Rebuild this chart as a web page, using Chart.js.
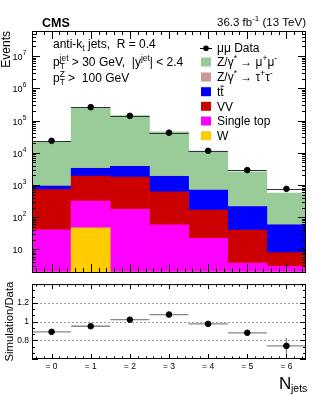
<!DOCTYPE html>
<html>
<head>
<meta charset="utf-8">
<script src="https://cdn.jsdelivr.net/npm/chart.js@4.4.1/dist/chart.umd.min.js"></script>
<style>
  body { margin: 0; background: #fff; }
  #wrap { position: relative; width: 316px; height: 395px; }
  #mainChart { position: absolute; left: 0; top: 0; }
  #ratioChart { position: absolute; left: 0; top: 276px; }
</style>
</head>
<body>
<div id="wrap">
  <canvas id="mainChart" width="316" height="277"></canvas>
  <canvas id="ratioChart" width="316" height="119"></canvas>
</div>
<script>
// DATA
const nJets = [0, 1, 2, 3, 4, 5, 6];
const dataEvents = [23500, 260000, 140000, 42000, 11500, 2900, 760];
const zmumu = [20000, 243500, 139000, 43100, 10600, 2330, 500];
const ztautau = [8, 60, 50, 20, 6, 2, 0.5];
const ttbar = [210, 1400, 2050, 1255, 524, 175, 50];
const vv = [679, 1580, 1575, 557, 144, 36, 5];
const singleTop = [41, 273, 175, 58, 22, 3.8, 3.0];
const wjets = [0, 47, 0, 0, 0, 0, 0];
const ratio = [0.89, 0.95, 1.02, 1.075, 0.975, 0.88, 0.74];
const ratioErr = [0.006, 0.003, 0.003, 0.006, 0.012, 0.025, 0.085];
const logTicks = [10, 100, 1000, 10000, 100000, 1000000, 10000000];
const ratioTicks = [0.8, 1, 1.2];

const FONT = "'Liberation Sans', Arial, Helvetica, sans-serif";

const xy = arr => nJets.map((n, i) => ({ x: n, y: arr[i] }));

// RICH TEXT (sub / sup)
function font(size, bold) {
    return (bold ? "bold " : "") + size + "px " + FONT;
}

function partWidth(ctx, p, size) {
    if (p.t !== undefined) {
        ctx.font = font(p.sup || p.sub ? size * 0.7 : size);
        return ctx.measureText(p.t).width;
    }
    ctx.font = font(size * 0.7);
    return Math.max(ctx.measureText(p.lo).width, ctx.measureText(p.hi).width);
}

function richText(ctx, x, y, parts, size, align) {
    let total = 0;
    parts.forEach(p => total += partWidth(ctx, p, size));
    let cx = align === "right" ? x - total : x;
    ctx.textAlign = "left";
    ctx.textBaseline = "alphabetic";
    parts.forEach(p => {
        const w = partWidth(ctx, p, size);
        if (p.t !== undefined) {
            let dy = 0;
            if (p.sup) dy = -size * 0.42;
            if (p.sub) dy = size * 0.25;
            ctx.font = font(p.sup || p.sub ? size * 0.7 : size);
            ctx.fillText(p.t, cx, y + dy);
            if (p.bar) {
                const bw = ctx.measureText(p.bar).width;
                ctx.fillRect(cx + w - bw, y - size * 0.86, bw, 1);
            }
        } else {
            ctx.font = font(size * 0.7);
            ctx.fillText(p.lo, cx, y + size * 0.28);
            ctx.fillText(p.hi, cx, y - size * 0.45);
        }
        cx += w;
    });
}

function rotText(ctx, text, x, y, size, align) {
    ctx.save();
    ctx.translate(x, y);
    ctx.rotate(-Math.PI / 2);
    ctx.font = font(size);
    ctx.textAlign = align;
    ctx.textBaseline = "alphabetic";
    ctx.fillText(text, 0, 0);
    ctx.restore();
}

function xTicks(ctx, xs, area, majorLen, minorLen, top, bottom) {
    ctx.beginPath();
    for (let k = -3; k <= 33; k++) {
        const v = k * 0.2;
        if (v < -0.5 || v > 6.5) continue;
        const major = k % 5 === 0;
        const len = major ? majorLen : minorLen;
        const px = Math.round(xs.getPixelForValue(v)) + 0.5;
        if (bottom) { ctx.moveTo(px, area.bottom); ctx.lineTo(px, area.bottom - len); }
        if (top) { ctx.moveTo(px, area.top); ctx.lineTo(px, area.top + len); }
    }
    ctx.stroke();
}

// MAIN PANEL DECORATION
const mainDeco = {
    id: "mainDeco",
    beforeDatasetDraw(chart, args) {
        if (args.meta.type !== "scatter") return;
        const ctx = chart.ctx;
        const xs = chart.scales.x, ys = chart.scales.y;
        ctx.save();
        ctx.strokeStyle = "#333";
        ctx.lineWidth = 1;
        ctx.beginPath();
        nJets.forEach((n, i) => {
            const py = Math.round(ys.getPixelForValue(dataEvents[i])) + 0.5;
            ctx.moveTo(xs.getPixelForValue(n - 0.5), py);
            ctx.lineTo(xs.getPixelForValue(n + 0.5), py);
        });
        ctx.stroke();
        ctx.restore();
    },
    afterDraw(chart) {
        const ctx = chart.ctx;
        const area = chart.chartArea;
        const xs = chart.scales.x, ys = chart.scales.y;
        ctx.save();
        ctx.fillStyle = "#000";
        ctx.strokeStyle = "#000";
        ctx.lineWidth = 1;

        // frame
        ctx.strokeRect(area.left + 0.5, area.top + 0.5, area.right - area.left - 1, area.bottom - area.top);

        // x ticks
        xTicks(ctx, xs, area, 8, 4, true, true);

        // log y ticks, both sides
        ctx.beginPath();
        for (let e = 0; e <= 7; e++) {
            for (let m = 1; m <= 9; m++) {
                const v = m * Math.pow(10, e);
                if (v < ys.min || v > ys.max) continue;
                const py = Math.round(ys.getPixelForValue(v)) + 0.5;
                const len = m === 1 ? 8 : 4;
                ctx.moveTo(area.left, py); ctx.lineTo(area.left + len, py);
                ctx.moveTo(area.right, py); ctx.lineTo(area.right - len, py);
            }
        }
        ctx.stroke();

        // log y labels
        logTicks.forEach(v => {
            const py = ys.getPixelForValue(v);
            const exp = Math.round(Math.log10(v));
            ctx.font = font(9);
            ctx.textAlign = "right";
            ctx.textBaseline = "alphabetic";
            ctx.fillText("10", 22.5, py + 4);
            if (exp > 1) {
                ctx.font = font(6.5);
                ctx.textAlign = "left";
                ctx.fillText(String(exp), 22.8, py - 1);
            }
        });

        // titles
        ctx.font = font(12.5, true);
        ctx.textAlign = "left";
        ctx.fillText("CMS", 42, 27);
        richText(ctx, 306, 26, [{ t: "36.3 fb" }, { t: "-1", sup: true }, { t: " (13 TeV)" }], 11.5, "right");

        rotText(ctx, "Events", 10, 31, 12, "right");

        // selection text
        richText(ctx, 53, 48, [{ t: "anti-k" }, { t: "t", sub: true }, { t: " jets,  R = 0.4" }], 12);
        richText(ctx, 53, 66, [{ t: "p" }, { lo: "T", hi: "jet" }, { t: " > 30 GeV,  |y" }, { t: "jet", sup: true }, { t: "| < 2.4" }], 12);
        richText(ctx, 53, 82, [{ t: "p" }, { lo: "T", hi: "Z" }, { t: " >  100 GeV" }], 12);

        // legend
        const lx = 201, tx = 217;
        const rows = [
            { c: null, parts: [{ t: "\u03bc\u03bc Data" }] },
            { c: "#99cc99", parts: [{ t: "Z/\u03b3" }, { t: "*", sup: true }, { t: " \u2192 \u03bc" }, { t: "+", sup: true }, { t: "\u03bc" }, { t: "-", sup: true }] },
            { c: "#cc9999", parts: [{ t: "Z/\u03b3" }, { t: "*", sup: true }, { t: " \u2192 \u03c4" }, { t: "+", sup: true }, { t: "\u03c4" }, { t: "-", sup: true }] },
            { c: "#0000ff", parts: [{ t: "tt", bar: "t" }] },
            { c: "#cc0000", parts: [{ t: "VV" }] },
            { c: "#ff00ff", parts: [{ t: "Single top" }] },
            { c: "#ffcc00", parts: [{ t: "W" }] }
        ];
        const rowY = [47.7, 62, 77, 91.7, 106.3, 121, 135.7];
        rows.forEach((r, i) => {
            const cy = rowY[i];
            if (r.c) {
                ctx.fillStyle = r.c;
                ctx.fillRect(lx, cy - 4.5, 10, 9);
            } else {
                ctx.fillStyle = "#000";
                ctx.fillRect(lx - 1, Math.round(cy), 12, 1);
                ctx.beginPath();
                ctx.arc(lx + 5, cy + 0.5, 2.8, 0, Math.PI * 2);
                ctx.fill();
            }
            ctx.fillStyle = "#000";
            richText(ctx, tx, cy + 4.3, r.parts, 12);
        });
        ctx.restore();
    }
};

// RATIO PANEL DECORATION
const ratioDeco = {
    id: "ratioDeco",
    beforeDatasetsDraw(chart) {
        const ctx = chart.ctx;
        const area = chart.chartArea;
        const xs = chart.scales.x, ys = chart.scales.y;
        ctx.save();
        ctx.strokeStyle = "#999";
        ctx.setLineDash([2, 2]);
        ctx.lineWidth = 1;
        ctx.beginPath();
        ratioTicks.forEach(v => {
            const py = Math.round(ys.getPixelForValue(v)) + 0.5;
            ctx.moveTo(area.left, py); ctx.lineTo(area.right, py);
        });
        ctx.stroke();
        ctx.setLineDash([]);

        ctx.strokeStyle = "#888";
        ctx.lineWidth = 1.3;
        ctx.beginPath();
        nJets.forEach((n, i) => {
            const py = ys.getPixelForValue(ratio[i]);
            const px = xs.getPixelForValue(n);
            ctx.moveTo(xs.getPixelForValue(n - 0.5), py);
            ctx.lineTo(xs.getPixelForValue(n + 0.5), py);
            ctx.moveTo(px, ys.getPixelForValue(ratio[i] - ratioErr[i]));
            ctx.lineTo(px, ys.getPixelForValue(ratio[i] + ratioErr[i]));
        });
        ctx.stroke();
        ctx.restore();
    },
    afterDraw(chart) {
        const ctx = chart.ctx;
        const area = chart.chartArea;
        const xs = chart.scales.x, ys = chart.scales.y;
        ctx.save();
        ctx.strokeStyle = "#000";
        ctx.fillStyle = "#000";
        ctx.lineWidth = 1;
        ctx.strokeRect(area.left + 0.5, area.top + 0.5, area.right - area.left - 1, area.bottom - area.top - 1);

        xTicks(ctx, xs, area, 5, 2.5, true, true);

        ctx.beginPath();
        for (let k = 0; k <= 12; k++) {
            const v = 0.6 + k * 0.2 / 3;
            const py = Math.round(ys.getPixelForValue(v)) + 0.5;
            const len = k % 3 === 0 ? 6 : 3;
            ctx.moveTo(area.left, py); ctx.lineTo(area.left + len, py);
            ctx.moveTo(area.right, py); ctx.lineTo(area.right - len, py);
        }
        ctx.stroke();

        rotText(ctx, "Simulation/Data", 12.5, (area.top + area.bottom) / 2, 11.3, "center");

        ctx.textAlign = "left";
        ctx.font = font(17);
        ctx.fillText("N", 279, 113);
        ctx.font = font(10.5);
        ctx.fillText("jets", 291, 115.5);
        ctx.restore();
    }
};

// MAIN CHART
const mcSets = [
    { label: "W", data: xy(wjets), backgroundColor: "#ffcc00" },
    { label: "Single top", data: xy(singleTop), backgroundColor: "#ff00ff" },
    { label: "VV", data: xy(vv), backgroundColor: "#cc0000" },
    { label: "tt", data: xy(ttbar), backgroundColor: "#0000ff" },
    { label: "Z/\u03b3* \u2192 \u03c4\u03c4", data: xy(ztautau), backgroundColor: "#cc9999" },
    { label: "Z/\u03b3* \u2192 \u03bc\u03bc", data: xy(zmumu), backgroundColor: "#99cc99" }
].map(d => Object.assign(d, {
    type: "bar",
    stack: "mc",
    order: 1,
    borderWidth: 0,
    barPercentage: 1,
    categoryPercentage: 1
}));

new Chart(document.getElementById("mainChart"), {
    type: "bar",
    data: {
        datasets: [
            {
                type: "scatter",
                label: "\u03bc\u03bc Data",
                data: xy(dataEvents),
                backgroundColor: "#000",
                borderColor: "#000",
                pointRadius: 2.8,
                stack: "data",
                order: 0
            }
        ].concat(mcSets)
    },
    options: {
        responsive: false,
        animation: false,
        layout: { padding: { left: 0, right: 10, top: 31, bottom: 1 } },
        plugins: { legend: { display: false }, tooltip: { enabled: false } },
        scales: {
            x: { type: "linear", min: -0.5, max: 6.5, offset: false, display: false },
            y: {
                type: "logarithmic",
                min: 2,
                max: 6e7,
                stacked: true,
                afterFit: s => { s.width = 32; },
                ticks: { display: false },
                grid: { display: false, drawTicks: false },
                border: { display: false }
            }
        }
    },
    plugins: [mainDeco]
});

// RATIO CHART
new Chart(document.getElementById("ratioChart"), {
    type: "scatter",
    data: {
        datasets: [{
            data: xy(ratio),
            backgroundColor: "#000",
            borderColor: "#000",
            pointRadius: 2.8
        }]
    },
    options: {
        responsive: false,
        animation: false,
        layout: { padding: { left: 0, right: 10, top: 0, bottom: 0 } },
        plugins: { legend: { display: false }, tooltip: { enabled: false } },
        scales: {
            x: {
                type: "linear",
                min: -0.5,
                max: 6.5,
                afterBuildTicks: s => { s.ticks = nJets.map(v => ({ value: v })); },
                afterFit: s => { s.height = 36; },
                ticks: {
                    callback: v => "= " + v,
                    font: { family: FONT, size: 8.5 },
                    color: "#000",
                    padding: 3,
                    maxRotation: 0,
                    autoSkip: false
                },
                grid: { display: false, drawTicks: false },
                border: { display: false }
            },
            y: {
                min: 0.6,
                max: 1.4,
                afterBuildTicks: s => { s.ticks = ratioTicks.map(v => ({ value: v })); },
                afterFit: s => { s.width = 32; },
                ticks: {
                    callback: v => String(v),
                    font: { family: FONT, size: 8.5 },
                    color: "#000",
                    padding: 3
                },
                grid: { display: false, drawTicks: false },
                border: { display: false }
            }
        }
    },
    plugins: [ratioDeco]
});
</script>
</body>
</html>
